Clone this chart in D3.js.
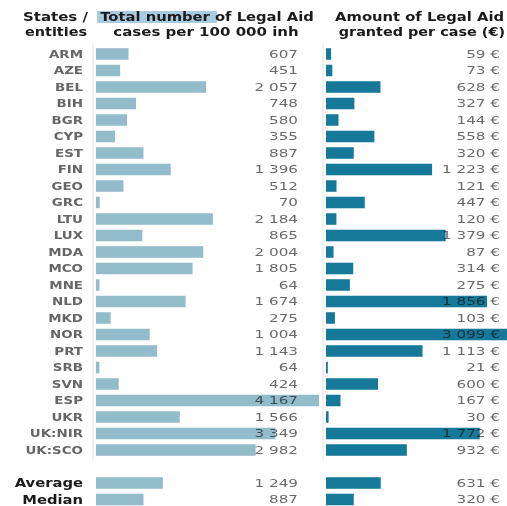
<!DOCTYPE html>
<html>
<head>
<meta charset="utf-8">
<script src="https://cdnjs.cloudflare.com/ajax/libs/d3/7.8.5/d3.min.js"></script>
<style>
  body { margin: 0; background: #fff; }
  text { font-family: "DejaVu Sans", sans-serif; }
  .val { mix-blend-mode: multiply; }
</style>
</head>
<body>
<div id="chart"></div>
<script>
var states = ["ARM", "AZE", "BEL", "BIH", "BGR", "CYP", "EST", "FIN", "GEO", "GRC", "LTU", "LUX",
    "MDA", "MCO", "MNE", "NLD", "MKD", "NOR", "PRT", "SRB", "SVN", "ESP", "UKR", "UK:NIR", "UK:SCO"];
var casesPer100k = [607, 451, 2057, 748, 580, 355, 887, 1396, 512, 70, 2184, 865,
    2004, 1805, 64, 1674, 275, 1004, 1143, 64, 424, 4167, 1566, 3349, 2982];
var amountPerCase = [59, 73, 628, 327, 144, 558, 320, 1223, 121, 447, 120, 1379,
    87, 314, 275, 1856, 103, 3099, 1113, 21, 600, 167, 30, 1772, 932];
var summaryLabels = ["Average", "Median"];
var summaryCases = [1249, 887];
var summaryAmount = [631, 320];

// the source picture is stretched sideways, so text gets a horizontal scale
function place(sel, x, y, sx) {
    return sel.attr("transform", "translate(" + x + "," + y + ") scale(" + sx + ",1)");
}

function drawChart(parentId) {
    var width = 507, height = 506;

    var rows = states.map(function(s, i) {
        return {group: s, cases: casesPer100k[i], amount: amountPerCase[i], summary: false};
    });
    summaryLabels.forEach(function(s, i) {
        rows.push({group: s, cases: summaryCases[i], amount: summaryAmount[i], summary: true});
    });

    var svg = d3.select('#' + parentId)
        .append('svg')
        .attr('width', width)
        .attr('height', height);

    // one empty band between the states and the summary rows
    var y = d3.scaleBand()
        .domain(states.concat(["_gap"], summaryLabels))
        .range([45.75, 45.75 + 28 * 16.5])
        .paddingInner(0.3)
        .paddingOuter(0.15);

    var x1 = d3.scaleLinear().domain([0, 4167]).range([96, 319]);
    var x2 = d3.scaleLinear().domain([0, 1856]).range([326, 487]);

    var loc = d3.formatLocale({decimal: ".", thousands: " ", grouping: [3], currency: ["", " €"]});
    var fmt = loc.format(",");

    // headers
    svg.append("rect")
        .attr("x", 97).attr("y", 11).attr("width", 120).attr("height", 12)
        .attr("fill", "#a9cbe0");

    var head = svg.append("g")
        .attr("font-weight", "bold")
        .attr("font-size", 12)
        .attr("fill", "#1a1a1a");
    place(head.append("text").attr("text-anchor", "end"), 88, 21, 1.25).text("States /");
    place(head.append("text").attr("text-anchor", "end"), 87, 36, 1.2).text("entities");
    place(head.append("text").attr("text-anchor", "middle"), 207, 21, 1.23).text("Total number of Legal Aid");
    place(head.append("text").attr("text-anchor", "middle"), 206, 36, 1.25).text("cases per 100 000 inh");
    place(head.append("text").attr("text-anchor", "end"), 504, 21, 1.23).text("Amount of Legal Aid");
    place(head.append("text").attr("text-anchor", "end"), 505, 36, 1.2).text("granted per case (€)");

    // thin separators
    var lineTop = y(states[0]) - 4;
    var lineBottom = y(states[states.length - 1]) + y.bandwidth() + 4;
    svg.append("line").attr("x1", 93).attr("x2", 93).attr("y1", lineTop).attr("y2", lineBottom)
        .attr("stroke", "#e2e2e2");
    svg.append("line").attr("x1", 323).attr("x2", 323).attr("y1", lineTop).attr("y2", lineBottom)
        .attr("stroke", "#e2e2e2");

    var row = svg.selectAll(".row")
        .data(rows)
      .enter().append("g")
        .attr("class", "row")
        .attr("transform", function(d) { return "translate(0," + y(d.group) + ")"; });

    var mid = y.bandwidth() / 2;

    row.each(function(d) {
        var t = d3.select(this).append("text")
            .attr("dy", "0.36em")
            .attr("text-anchor", "end")
            .attr("font-size", d.summary ? 12 : 11)
            .attr("font-weight", "bold")
            .attr("fill", d.summary ? "#1a1a1a" : "#666")
            .text(d.group);
        place(t, 83, mid, d.summary ? 1.23 : 1.22);
    });

    row.append("rect")
        .attr("x", x1(0))
        .attr("height", y.bandwidth())
        .attr("width", function(d) { return x1(d.cases) - x1(0); })
        .attr("fill", "#93bccb");

    place(row.append("text"), 298, mid, 1.38)
        .attr("class", "val")
        .attr("dy", "0.36em")
        .attr("text-anchor", "end")
        .attr("font-size", 11)
        .attr("fill", "#6a6a6a")
        .text(function(d) { return fmt(d.cases); });

    row.append("rect")
        .attr("x", x2(0))
        .attr("height", y.bandwidth())
        .attr("width", function(d) { return x2(d.amount) - x2(0); })
        .attr("fill", "#16799a");

    place(row.append("text"), 500, mid, 1.38)
        .attr("class", "val")
        .attr("dy", "0.36em")
        .attr("text-anchor", "end")
        .attr("font-size", 11)
        .attr("fill", "#6a6a6a")
        .text(function(d) { return fmt(d.amount) + " €"; });

    return {chart: svg};
}

drawChart('chart');
</script>
</body>
</html>
